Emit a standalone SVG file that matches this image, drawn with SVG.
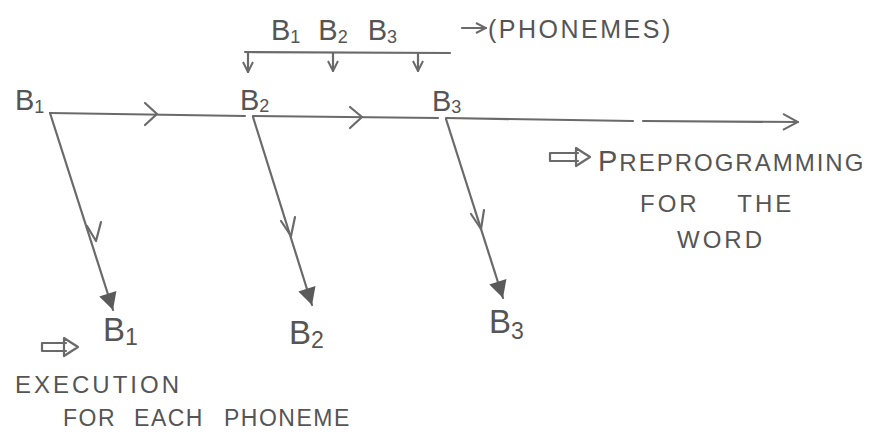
<svg xmlns="http://www.w3.org/2000/svg" width="873" height="435" viewBox="0 0 873 435">
<style>
.t{font-family:"Liberation Sans","DejaVu Sans",sans-serif;fill:#555;}
.lbl{font-size:29px;}
.sub{font-size:18px;}
.cap{font-size:23px;letter-spacing:2.5px;}
.ln{stroke:#6a6a6a;stroke-width:2.2;fill:none;stroke-linecap:round;}
.chev{stroke:#6a6a6a;stroke-width:2.2;fill:none;stroke-linecap:round;stroke-linejoin:round;}
</style>
<defs>
<marker id="open" viewBox="0 0 12 12" refX="11" refY="6" markerWidth="12" markerHeight="12" markerUnits="userSpaceOnUse" orient="auto">
<path d="M1,1 L11,6 L1,11" fill="none" stroke="#6a6a6a" stroke-width="2"/>
</marker>
<marker id="open2" viewBox="0 0 20 20" refX="19" refY="10" markerWidth="20" markerHeight="20" markerUnits="userSpaceOnUse" orient="auto">
<path d="M4,2 L19,10 L4,18" fill="none" stroke="#6a6a6a" stroke-width="2"/>
</marker>
<marker id="fill" viewBox="0 0 20 20" refX="19" refY="10" markerWidth="20" markerHeight="20" markerUnits="userSpaceOnUse" orient="auto">
<path d="M2,1 L19,10 L2,19 Z" fill="#5a5a5a"/>
</marker>
</defs>

<g id="connectors">
<path class="ln" d="M245,52 L450,53"/>
<path class="ln" d="M248,53 L248,72" marker-end="url(#open)"/>
<path class="ln" d="M333,53 L333,71" marker-end="url(#open)"/>
<path class="ln" d="M418,53 L418,71" marker-end="url(#open)"/>
<path class="ln" d="M462,28 L486,28" marker-end="url(#open)"/>
<path class="ln" d="M50,113 L245,116"/>
<path class="ln" d="M253,116 L438,118"/>
<path class="ln" d="M446,118 L633,121"/>
<path class="ln" d="M643,121 L798,122" marker-end="url(#open2)"/>
<path class="chev" d="M145,103 L157,114 L145,125"/>
<path class="chev" d="M350,107 L362,117 L350,128"/>
<path class="ln" d="M50,113 L113,310" marker-end="url(#fill)"/>
<path class="ln" d="M253,117 L312,305" marker-end="url(#fill)"/>
<path class="ln" d="M446,119 L503,298" marker-end="url(#fill)"/>
<path class="chev" d="M87,226 L96,241 L101,222"/>
<path class="chev" d="M281,221 L291,236 L295,217"/>
<path class="chev" d="M471,214 L481,229 L484,210"/>
<path class="chev" d="M550,153 L578,153 M550,161 L578,161 M550,153 L550,161 M576,148 L590,157 L576,166 Z"/>
<path class="chev" d="M42,343 L66,343 M42,351 L66,351 M42,343 L42,351 M64,338 L78,347 L64,356 Z"/>
</g>

<g id="phoneme-list">
<text class="t" x="271" y="40"><tspan class="lbl">B</tspan><tspan class="sub" dy="3">1</tspan><tspan class="lbl" dy="-3" dx="18">B</tspan><tspan class="sub" dy="3">2</tspan><tspan class="lbl" dy="-3" dx="20">B</tspan><tspan class="sub" dy="3">3</tspan></text>
</g>
<g id="phonemes-label">
<text class="t cap" x="488" y="38" style="font-size:25px">(PHONEMES)</text>
</g>

<g id="node-b1-top"><text class="t" x="15" y="110"><tspan class="lbl">B</tspan><tspan class="sub" dy="3">1</tspan></text></g>
<g id="node-b2-top"><text class="t" x="240" y="110"><tspan class="lbl">B</tspan><tspan class="sub" dy="2">2</tspan></text></g>
<g id="node-b3-top"><text class="t" x="432" y="111"><tspan class="lbl">B</tspan><tspan class="sub" dy="2">3</tspan></text></g>

<g id="node-b1-bottom"><text class="t" x="103" y="341"><tspan class="lbl" style="font-size:33px">B</tspan><tspan class="sub" style="font-size:23px" dy="4">1</tspan></text></g>
<g id="node-b2-bottom"><text class="t" x="289" y="344"><tspan class="lbl" style="font-size:33px">B</tspan><tspan class="sub" style="font-size:23px" dy="4">2</tspan></text></g>
<g id="node-b3-bottom"><text class="t" x="489" y="333"><tspan class="lbl" style="font-size:33px">B</tspan><tspan class="sub" style="font-size:23px" dy="6">3</tspan></text></g>

<g id="preprogramming-label">
<text class="t cap" x="598" y="171" style="font-size:24px;letter-spacing:2px"><tspan style="font-size:29px">P</tspan>REPROGRAMMING</text>
<text class="t cap" x="640" y="212" style="font-size:24px;letter-spacing:3px">FOR<tspan dx="38">THE</tspan></text>
<text class="t cap" x="677" y="248" style="font-size:24px;letter-spacing:3px">WORD</text>
</g>

<g id="execution-label">
<text class="t cap" x="15" y="393" style="font-size:24px;letter-spacing:3px">EXECUTION</text>
<text class="t cap" x="63" y="426" style="font-size:23px;letter-spacing:1.5px">FOR<tspan dx="18">EACH</tspan><tspan dx="20">PHONEME</tspan></text>
</g>
</svg>
